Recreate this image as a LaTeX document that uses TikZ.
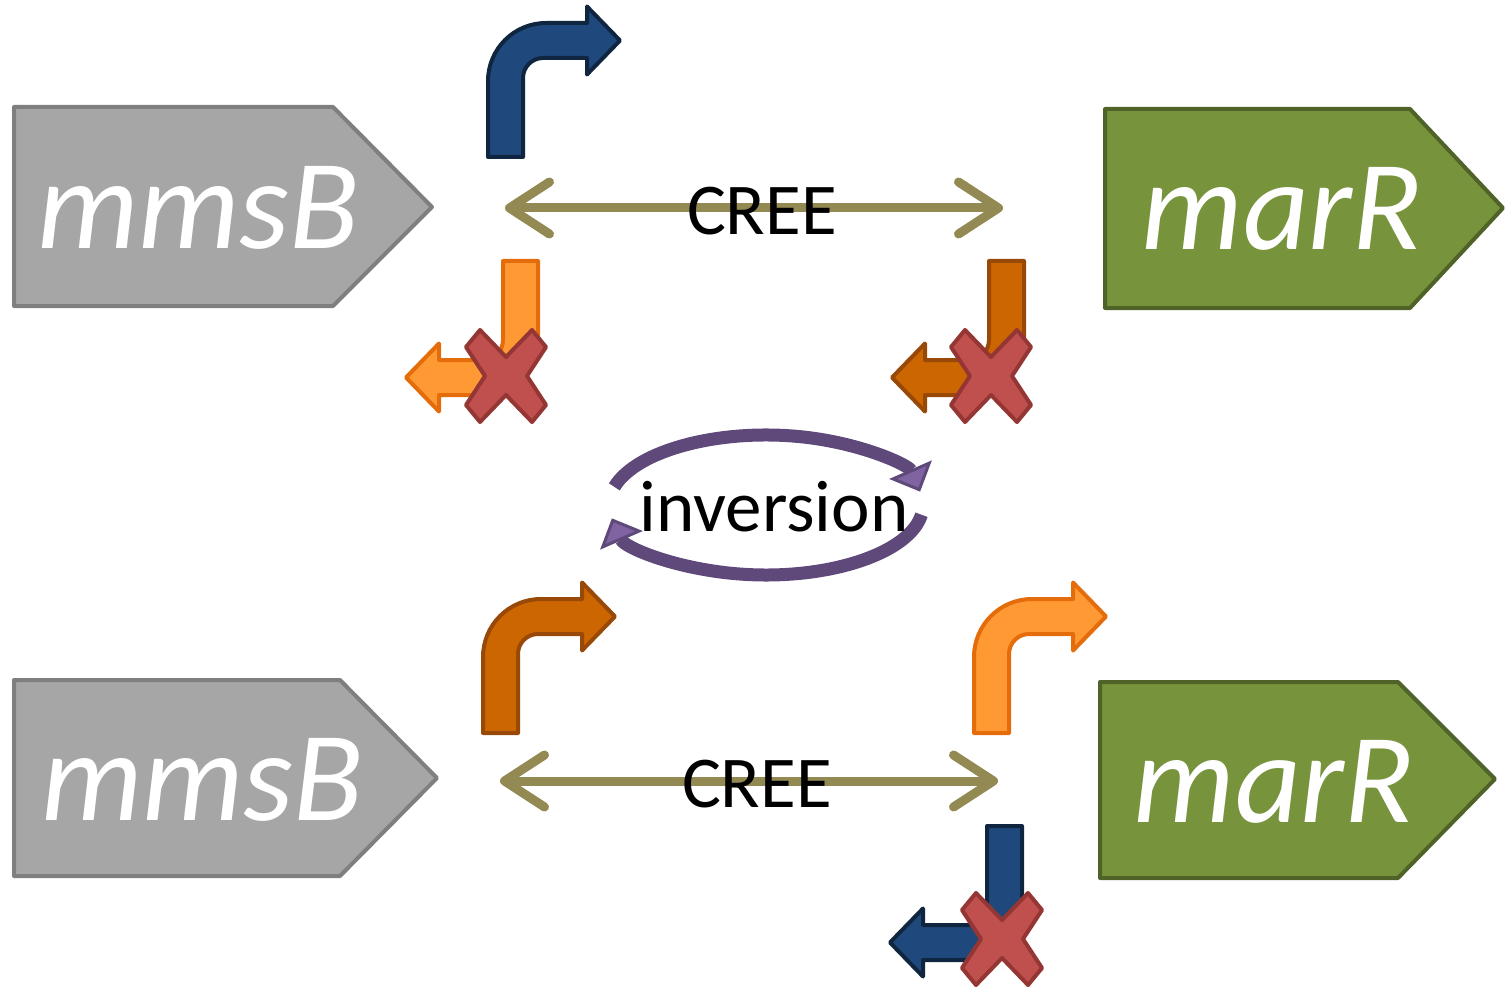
\documentclass[tikz,border=0pt]{standalone}
\usepackage{fontspec}
\setmainfont{Carlito}
\usetikzlibrary{arrows.meta,calc}

\definecolor{genegrayfill}{HTML}{A6A6A6}
\definecolor{genegraydraw}{HTML}{7F7F7F}
\definecolor{genegreenfill}{HTML}{77933C}
\definecolor{genegreendraw}{HTML}{4F6228}
\definecolor{creecol}{HTML}{938953}
\definecolor{bluefill}{HTML}{1F497D}
\definecolor{bluedraw}{HTML}{10253F}
\definecolor{darkorangefill}{HTML}{CC6600}
\definecolor{darkorangedraw}{HTML}{984807}
\definecolor{lightorangefill}{HTML}{FF9933}
\definecolor{lightorangedraw}{HTML}{E46C0A}
\definecolor{crossfill}{HTML}{C0504D}
\definecolor{crossdraw}{HTML}{943634}
\definecolor{invdark}{HTML}{5F497A}
\definecolor{invlight}{HTML}{8064A2}

\tikzset{
  geneshape/.style={line width=4pt, line join=round},
  graygene/.style={geneshape, fill=genegrayfill, draw=genegraydraw},
  greengene/.style={geneshape, fill=genegreenfill, draw=genegreendraw},
  genelabel/.style={text=white, inner sep=0pt, font=\fontsize{128}{128}\selectfont\itshape},
  plainlabel/.style={text=black, inner sep=0pt, font=\fontsize{73}{73}\selectfont},
  cree/.style={line width=9pt, draw=creecol,
    {Straight Barb[length=40pt,width=52pt,round]}-{Straight Barb[length=40pt,width=52pt,round]}},
  invarc/.style={line width=13pt, draw=invdark,
    -{Triangle[length=24pt,width=46pt,line width=3pt,fill=invlight,color=invdark]}},
  % promoter arrow turning right; origin at lower-left of the shaft
  turnarrow/.pic={
    \path[pic actions, line width=4pt, line join=round]
      (0,0) -- (0,-76)
      .. controls (0,-108) and (26,-134) .. (58,-134)
      -- (99,-134) -- (99,-150.5) -- (132,-116.5) -- (99,-82.5) -- (99,-99)
      -- (55,-99) .. controls (44,-99) and (35,-90) .. (35,-79)
      -- (35,0) -- cycle;
  },
  % blocking cross
  crossmark/.pic={
    \path[fill=crossfill, draw=crossdraw, line width=4pt, line join=round]
      (-26,-46) -- (0,-19) -- (26,-46) -- (40,-29) -- (21,0) -- (40,29)
      -- (26,46) -- (0,19) -- (-26,46) -- (-40,29) -- (-21,0) -- (-40,-29) -- cycle;
  },
}

\begin{document}
\begin{tikzpicture}[x=1pt,y=-1pt]
\useasboundingbox (0,0) rectangle (1505,987);

% genes, top row
\draw[graygene] (14,107) -- (333,107) -- (432,207) -- (333,306) -- (14,306) -- cycle;
\node[genelabel, anchor=base] (mmsBtop) at (198,248) {mmsB};
\draw[greengene] (1105,109) -- (1410,109) -- (1503,208) -- (1410,308) -- (1105,308) -- cycle;
\node[genelabel, anchor=base] (marRtop) at (1282,250) {marR};

% genes, bottom row
\draw[graygene] (14,680) -- (340,680) -- (437,778) -- (340,876) -- (14,876) -- cycle;
\node[genelabel, anchor=base] (mmsBbot) at (202,820) {mmsB};
\draw[greengene] (1100,682) -- (1398,682) -- (1495,779) -- (1398,878) -- (1100,878) -- cycle;
\node[genelabel, anchor=base] (marRbot) at (1274,822) {marR};

% promoters, top row
\pic[fill=bluefill, draw=bluedraw] at (488,157) {turnarrow};
\pic[fill=lightorangefill, draw=lightorangedraw, rotate=180] at (538,261) {turnarrow};
\pic at (506,376) {crossmark};
\pic[fill=darkorangefill, draw=darkorangedraw, rotate=180] at (1024,261) {turnarrow};
\pic at (991,376) {crossmark};

% promoters, bottom row
\pic[fill=darkorangefill, draw=darkorangedraw] at (483,733) {turnarrow};
\pic[fill=lightorangefill, draw=lightorangedraw] at (974,733) {turnarrow};
\pic[fill=bluefill, draw=bluedraw, rotate=180] at (1022,826) {turnarrow};
\pic at (1002,939) {crossmark};

% recombination sites
\coordinate (creeTL) at (505,208);
\coordinate (creeTR) at (1003,208);
\draw[cree] (creeTL) -- (creeTR);
\node[plainlabel, anchor=base] (creeTop) at (762,235) {CREE};

\coordinate (creeBL) at (500,781);
\coordinate (creeBR) at (998,781);
\draw[cree] (creeBL) -- (creeBR);
\node[plainlabel, anchor=base] (creeBot) at (757,807) {CREE};

% inversion cycle
\coordinate (inv) at (766,505);
\draw[invarc] ([shift={(195:157 and 70)}]inv) arc[start angle=195, end angle=349, x radius=157, y radius=70];
\draw[invarc] ([shift={(8:157 and 70)}]inv) arc[start angle=8, end angle=169, x radius=157, y radius=70];
\node[plainlabel, anchor=base] (invText) at (774,531) {inversion};
\end{tikzpicture}
\end{document}
